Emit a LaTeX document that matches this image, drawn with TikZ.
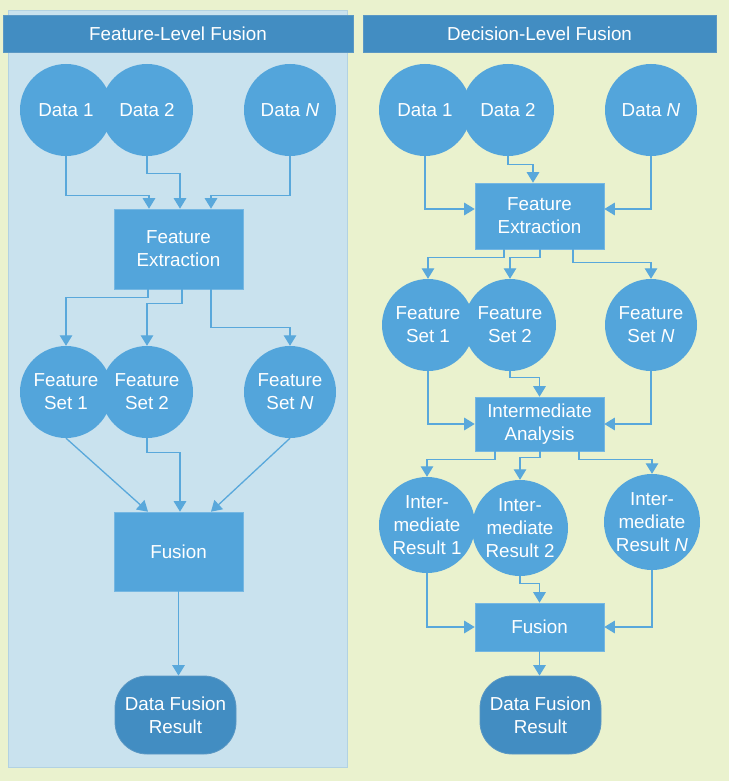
\documentclass[tikz,border=0pt]{standalone}
\usepackage{fontspec}
\setmainfont{Liberation Sans}
\usetikzlibrary{arrows.meta}

\definecolor{pagebg}{HTML}{EAF2CE}
\definecolor{panelbg}{HTML}{C9E2EE}
\definecolor{panelline}{HTML}{B2D2E2}
\definecolor{nodeblue}{HTML}{53A5DB}
\definecolor{darkblue}{HTML}{428DC2}
\definecolor{darkline}{HTML}{5B98C4}
\definecolor{connblue}{HTML}{59A8DB}

\tikzset{
  lbl/.style={font=\fontsize{18.8}{23}\selectfont, text=white, align=center},
  header/.style={lbl, fill=darkblue, draw=darkline, line width=0.8pt,
    minimum width=350pt, minimum height=37pt, inner sep=0pt},
  disc/.style={lbl, circle, fill=nodeblue, minimum size=92pt, inner sep=0pt},
  bigdisc/.style={disc, minimum size=96pt},
  procbox/.style={lbl, rectangle, fill=nodeblue, draw=nodeblue!80!white,
    line width=0.6pt, inner sep=0pt},
  terminal/.style={lbl, rectangle, rounded corners=32pt, fill=darkblue,
    draw=darkline, line width=0.8pt, minimum width=121pt,
    minimum height=78pt, inner sep=0pt},
  conn/.style={draw=connblue, line width=1.3pt,
    -{Triangle[length=10.5pt,width=12.5pt,fill=connblue]}},
}

\begin{document}
\begin{tikzpicture}[x=1pt,y=-1pt]
  % canvas
  \useasboundingbox (0,0) rectangle (729,781);
  \fill[pagebg] (0,0) rectangle (729,781);

  % left panel
  \filldraw[fill=panelbg, draw=panelline, line width=0.8pt]
    (8,10) rectangle (347,767);

  % headers
  \node[header] (Lhead) at (178,33.5) {Feature-Level Fusion};
  \node[header, minimum width=353pt] (Rhead) at (539.5,33.5) {Decision-Level Fusion};

  % ---------------- feature-level fusion ----------------
  \node[disc] (Ld1) at (66,110) {Data 1};
  \node[disc] (Ld2) at (147,110) {Data 2};
  \node[disc] (LdN) at (290,110) {Data \textit{N}};

  \node[procbox, minimum width=129pt, minimum height=80pt] (Lfe) at (178.5,249)
    {Feature\\Extraction};

  \node[disc] (Lf1) at (66,392) {Feature\\Set 1};
  \node[disc] (Lf2) at (147,392) {Feature\\Set 2};
  \node[disc] (LfN) at (290,392) {Feature\\Set \textit{N}};

  \node[procbox, minimum width=129pt, minimum height=79pt] (Lfu) at (178.5,551.5)
    {Fusion};

  \node[terminal] (Lres) at (175.5,715) {Data Fusion\\Result};

  \draw[conn] (Ld1.south) -- ++(0,39) -| ([xshift=-29.5pt]Lfe.north);
  \draw[conn] (Ld2.south) -- ++(0,17) -| ([xshift=1.5pt]Lfe.north);
  \draw[conn] (LdN.south) -- ++(0,39) -| ([xshift=32.5pt]Lfe.north);

  \draw[conn] ([xshift=-30.5pt]Lfe.south) -- ++(0,8) -| (Lf1.north);
  \draw[conn] ([xshift=3.5pt]Lfe.south) -- ++(0,14) -| (Lf2.north);
  \draw[conn] ([xshift=32.5pt]Lfe.south) -- ++(0,38) -| (LfN.north);

  \draw[conn] (Lf1.south) -- ([xshift=-30.5pt]Lfu.north);
  \draw[conn] (Lf2.south) -- ++(0,14) -| ([xshift=1.5pt]Lfu.north);
  \draw[conn] (LfN.south) -- ([xshift=32.5pt]Lfu.north);

  \draw[conn] (Lfu.south) -- (Lfu.south |- Lres.north);

  % ---------------- decision-level fusion ----------------
  \node[disc] (Rd1) at (425,110) {Data 1};
  \node[disc] (Rd2) at (508,110) {Data 2};
  \node[disc] (RdN) at (651,110) {Data \textit{N}};

  \node[procbox, minimum width=129pt, minimum height=66pt] (Rfe) at (539.5,216)
    {Feature\\Extraction};

  \node[disc] (Rf1) at (428,325) {Feature\\Set 1};
  \node[disc] (Rf2) at (510,325) {Feature\\Set 2};
  \node[disc] (RfN) at (651,325) {Feature\\Set \textit{N}};

  \node[procbox, minimum width=129pt, minimum height=54pt] (Ria) at (539.5,424)
    {Intermediate\\Analysis};

  \node[bigdisc] (Rr1) at (427,525) {Inter-\\mediate\\Result 1};
  \node[bigdisc] (Rr2) at (520,528) {Inter-\\mediate\\Result 2};
  \node[bigdisc] (RrN) at (652,522) {Inter-\\mediate\\Result \textit{N}};

  \node[procbox, minimum width=129pt, minimum height=48pt] (Rfu) at (539.5,627)
    {Fusion};

  \node[terminal] (Rres) at (540.5,715) {Data Fusion\\Result};

  \draw[conn] (Rd1.south) |- ([yshift=7pt]Rfe.west);
  \draw[conn] (Rd2.south) -- ++(0,8) -| ([xshift=-6.5pt]Rfe.north);
  \draw[conn] (RdN.south) |- ([yshift=7pt]Rfe.east);

  \draw[conn] ([xshift=-35.5pt]Rfe.south) -- ++(0,8) -| (Rf1.north);
  \draw[conn] ([xshift=0.5pt]Rfe.south) -- ++(0,8) -| (Rf2.north);
  \draw[conn] ([xshift=33.5pt]Rfe.south) -- ++(0,13) -| (RfN.north);

  \draw[conn] (Rf1.south) |- (Ria.west);
  \draw[conn] (Rf2.south) -- ++(0,6) -| (Ria.north);
  \draw[conn] (RfN.south) |- (Ria.east);

  \draw[conn] ([xshift=-44.5pt]Ria.south) -- ++(0,8) -| (Rr1.north);
  \draw[conn] ([xshift=0.5pt]Ria.south) -- ++(0,6) -| (Rr2.north);
  \draw[conn] ([xshift=39.5pt]Ria.south) -- ++(0,8) -| (RrN.north);

  \draw[conn] (Rr1.south) |- (Rfu.west);
  \draw[conn] (Rr2.south) -- ++(0,7) -| (Rfu.north);
  \draw[conn] (RrN.south) |- (Rfu.east);

  \draw[conn] (Rfu.south) -- (Rfu.south |- Rres.north);
\end{tikzpicture}
\end{document}
